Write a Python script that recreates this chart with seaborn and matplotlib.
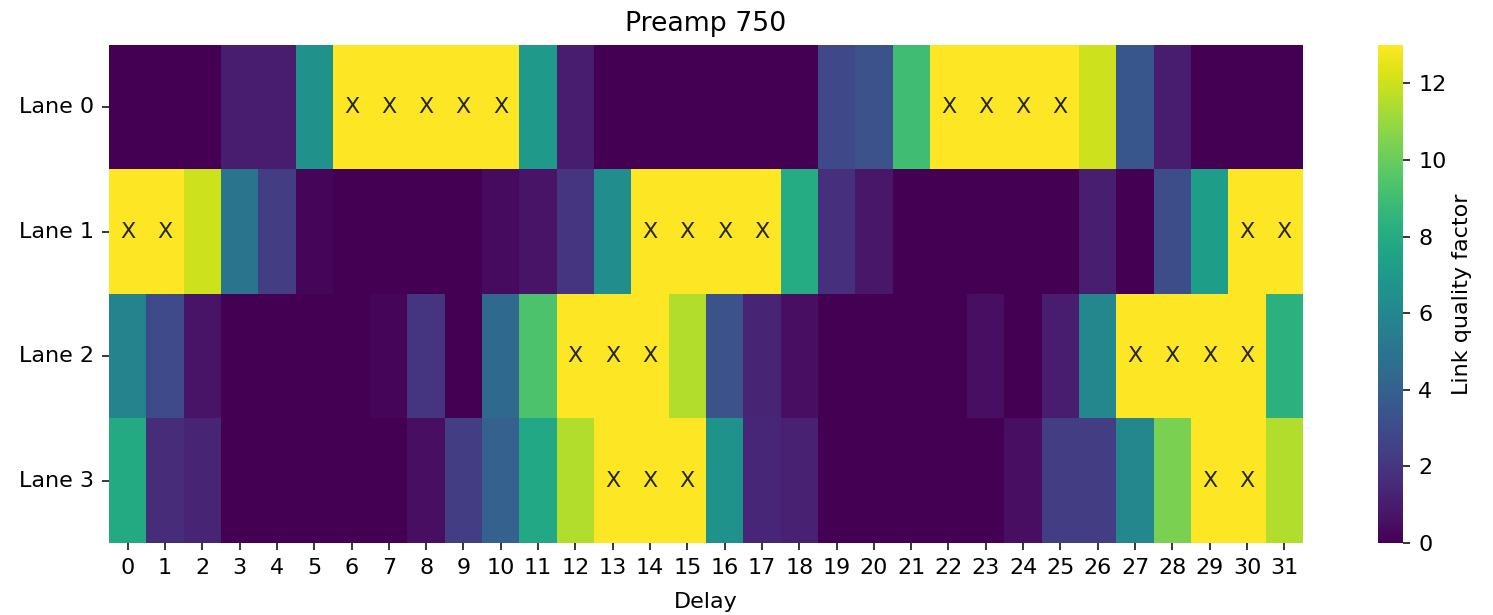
import numpy as np
import pandas as pd
import matplotlib
matplotlib.use("Agg")
import matplotlib.pyplot as plt
import seaborn as sns

lanes = ["Lane 0", "Lane 1", "Lane 2", "Lane 3"]
delays = list(range(32))

lane0 = [0, 0, 0, 1, 1, 6.5, 13, 13, 13, 13, 13, 7, 1, 0, 0, 0,
         0, 0, 0, 2.8, 3.3, 9, 13, 13, 13, 13, 12, 3.5, 1, 0, 0, 0]
lane1 = [13, 13, 12, 5, 2.3, 0.2, 0, 0, 0, 0, 0.4, 0.7, 2, 6.3, 13, 13,
         13, 13, 8, 1.8, 0.8, 0, 0, 0, 0, 0, 1.1, 0, 3, 7.2, 13, 13]
lane2 = [5.8, 2.9, 0.7, 0, 0, 0, 0, 0.2, 2, 0, 4.4, 9.3, 13, 13, 13, 11.5,
         3.3, 1.3, 0.5, 0, 0, 0, 0, 0.5, 0, 1, 6, 13, 13, 13, 13, 8.3]
lane3 = [7.9, 1.6, 1.3, 0, 0, 0, 0, 0, 0.5, 2.3, 4, 7.8, 11.5, 13, 13, 13,
         6.6, 1.4, 1.2, 0, 0, 0, 0, 0, 0.5, 2.3, 2.3, 6, 10.4, 13, 13, 11.5]

max_quality = 13

data = pd.DataFrame([lane0, lane1, lane2, lane3], index=lanes, columns=delays)
marks = np.where(data.values >= max_quality, "X", "")

fig = plt.figure(figsize=(14.93, 6.15), dpi=100)
ax = fig.add_axes([0.0730, 0.1171, 0.7997, 0.8098])
cax = fig.add_axes([0.9230, 0.1171, 0.0168, 0.8098])

sns.heatmap(
    data, ax=ax, cbar_ax=cax, cmap="viridis", vmin=0, vmax=max_quality,
    annot=marks, fmt="", annot_kws={"fontsize": 16},
    cbar_kws={"label": "Link quality factor"},
)

ax.set_title("Preamp 750", fontsize=19.3, pad=10)
ax.set_xlabel("Delay", fontsize=16, labelpad=10)
ax.set_ylabel("")
ax.tick_params(axis="both", labelsize=16, length=5, width=1.1, pad=6)
ax.set_yticklabels(lanes, rotation=0)
ax.set_xticklabels(delays, rotation=0)

cbar = ax.collections[0].colorbar
cbar.outline.set_visible(False)
cbar.ax.tick_params(labelsize=16, length=5, width=1.1, pad=6)
cbar.set_label("Link quality factor", fontsize=16)

fig.savefig("out.png", dpi=100)
